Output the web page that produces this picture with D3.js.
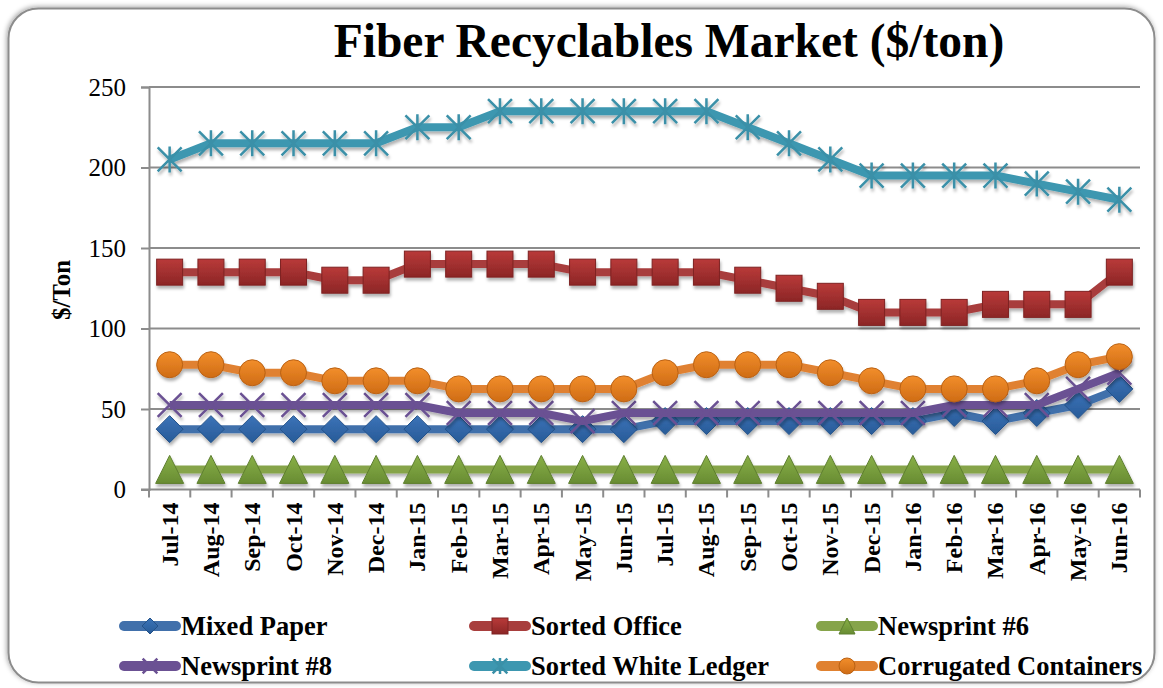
<!DOCTYPE html>
<html lang="en">
<head>
<meta charset="UTF-8">
<title>Fiber Recyclables Market ($/ton)</title>
<style>
  body { margin: 0; background: #fff; }
  svg, svg text { font-family: "Liberation Serif", "Times New Roman", serif; }
  svg { display: block; }
  .tick text { fill: #000; }
</style>
</head>
<body>
<div id="chart"></div>
<script src="https://cdnjs.cloudflare.com/ajax/libs/d3/7.8.5/d3.min.js"></script>
<script>
// ---- data ($/ton) ----
const months = ["Jul-14","Aug-14","Sep-14","Oct-14","Nov-14","Dec-14","Jan-15","Feb-15","Mar-15","Apr-15","May-15","Jun-15",
                "Jul-15","Aug-15","Sep-15","Oct-15","Nov-15","Dec-15","Jan-16","Feb-16","Mar-16","Apr-16","May-16","Jun-16"];
const mixedPaper        = [37.5,37.5,37.5,37.5,37.5,37.5,37.5,37.5,37.5,37.5,37.5,37.5,42.5,42.5,42.5,42.5,42.5,42.5,42.5,47.5,42.5,47.5,52.5,62.5];
const sortedOffice      = [135,135,135,135,130,130,140,140,140,140,135,135,135,135,130,125,120,110,110,110,115,115,115,135];
const newsprint6        = [12.5,12.5,12.5,12.5,12.5,12.5,12.5,12.5,12.5,12.5,12.5,12.5,12.5,12.5,12.5,12.5,12.5,12.5,12.5,12.5,12.5,12.5,12.5,12.5];
const newsprint8        = [52.5,52.5,52.5,52.5,52.5,52.5,52.5,47.5,47.5,47.5,42.5,47.5,47.5,47.5,47.5,47.5,47.5,47.5,47.5,52.5,52.5,52.5,62.5,72.5];
const sortedWhiteLedger = [205,215,215,215,215,215,225,225,235,235,235,235,235,235,225,215,205,195,195,195,195,190,185,180];
const corrugated        = [77.5,77.5,72.5,72.5,67.5,67.5,67.5,62.5,62.5,62.5,62.5,62.5,72.5,77.5,77.5,77.5,72.5,67.5,62.5,62.5,62.5,67.5,77.5,82.5];
const yTicks = [0, 50, 100, 150, 200, 250];

const seriesNames  = ["Mixed Paper","Sorted Office","Newsprint #6","Newsprint #8","Sorted White Ledger","Corrugated Containers"];
const seriesValues = [mixedPaper, sortedOffice, newsprint6, newsprint8, sortedWhiteLedger, corrugated];
const lineColors   = ["#4170ab","#a83e3d","#86a44a","#6b5193","#3d97b0","#e08130"];
const markTop      = ["#3b73b8","#b93a39","#89b047","#6b5193","#3a90a8","#f28e2b"];
const markBottom   = ["#285b98","#8c2626","#688c33","#6b5193","#3a90a8","#cf6c15"];
const markers      = ["diamond","square","triangle","x","star","circle"];

const W = 1163, H = 688;
const margin = {left: 149, right: 23, top: 87, bottom: 198};

const svg = d3.select("#chart").append("svg")
    .attr("width", W).attr("height", H);

const defs = svg.append("defs");
const shadow = defs.append("filter").attr("id", "shadow")
    .attr("x", "-30%").attr("y", "-30%").attr("width", "160%").attr("height", "160%");
shadow.append("feDropShadow").attr("dx", 1).attr("dy", 3).attr("stdDeviation", 1.8)
    .attr("flood-color", "#000").attr("flood-opacity", 0.3);
const frameShadow = defs.append("filter").attr("id", "frameShadow")
    .attr("x", "-5%").attr("y", "-5%").attr("width", "110%").attr("height", "110%");
frameShadow.append("feDropShadow").attr("dx", -1).attr("dy", -1).attr("stdDeviation", 2.5)
    .attr("flood-color", "#000").attr("flood-opacity", 0.35);

seriesNames.forEach((n, i) => {
  const g = defs.append("linearGradient").attr("id", "grad" + i)
      .attr("x1", 0).attr("y1", 0).attr("x2", 0).attr("y2", 1);
  g.append("stop").attr("offset", "0%").attr("stop-color", markTop[i]);
  g.append("stop").attr("offset", "100%").attr("stop-color", markBottom[i]);
});

// chart frame
svg.append("rect")
    .attr("x", 8.5).attr("y", 8.5).attr("width", 1146).attr("height", 674)
    .attr("rx", 30).attr("ry", 30)
    .attr("fill", "#fff").attr("stroke", "#8c8c8c").attr("stroke-width", 2)
    .attr("filter", "url(#frameShadow)");

// title
svg.append("text")
    .attr("x", 669).attr("y", 57)
    .attr("text-anchor", "middle")
    .style("font-size", "47.5px").style("font-weight", "bold")
    .text("Fiber Recyclables Market ($/ton)");

const x = d3.scaleBand().domain(months).range([margin.left, W - margin.right]);
const y = d3.scaleLinear().domain([0, 250]).range([H - margin.bottom - 0.5, margin.top]);

// gridlines
svg.append("g")
    .selectAll("line").data(yTicks.filter(d => d > 0)).join("line")
    .attr("x1", margin.left).attr("x2", W - margin.right)
    .attr("y1", d => y(d)).attr("y2", d => y(d))
    .attr("stroke", "#8c8c8c").attr("stroke-width", 2);

// y axis
const yAxis = svg.append("g")
    .attr("transform", `translate(${margin.left},0)`)
    .call(d3.axisLeft(y).tickValues(yTicks).tickSize(8).tickPadding(15));
yAxis.attr("font-family", null).attr("font-size", null);
yAxis.selectAll("path, line").attr("stroke", "#8c8c8c").attr("stroke-width", 2);
yAxis.selectAll("text")
    .style("font-family", "'Liberation Serif', 'Times New Roman', serif")
    .style("font-size", "25px");

// x axis: ticks at category boundaries
const xg = svg.append("g").attr("transform", `translate(0,${y(0)})`);
xg.append("line")
    .attr("x1", margin.left - 8).attr("x2", W - margin.right)
    .attr("stroke", "#8c8c8c").attr("stroke-width", 2);
xg.selectAll("line.tk").data(months.concat(["end"])).join("line")
    .attr("class", "tk")
    .attr("x1", (d, i) => margin.left + i * x.step())
    .attr("x2", (d, i) => margin.left + i * x.step())
    .attr("y1", 0).attr("y2", 8)
    .attr("stroke", "#8c8c8c").attr("stroke-width", 2);
xg.selectAll("text").data(months).join("text")
    .attr("transform", d => `translate(${x(d) + x.bandwidth() / 2 + 8},13) rotate(-90)`)
    .attr("text-anchor", "end")
    .style("font-size", "24px").style("font-weight", "bold")
    .text(d => d);

// y axis title
svg.append("text")
    .attr("transform", "translate(70,290) rotate(-90)")
    .attr("text-anchor", "middle")
    .style("font-size", "25px").style("font-weight", "bold")
    .text("$/Ton");

// marker drawing
function drawMarker(sel, type, i, s) {
  const stroke = d3.color(markBottom[i]).darker(0.3);
  if (type === "diamond") {
    sel.append("path").attr("d", `M0,${-s}L${s},0L0,${s}L${-s},0Z`)
       .attr("fill", `url(#grad${i})`).attr("stroke", stroke).attr("stroke-width", 1);
  } else if (type === "square") {
    sel.append("rect").attr("x", -s).attr("y", -s).attr("width", 2 * s).attr("height", 2 * s)
       .attr("fill", `url(#grad${i})`).attr("stroke", stroke).attr("stroke-width", 1);
  } else if (type === "triangle") {
    sel.append("path").attr("d", `M0,${-s}L${s},${s}L${-s},${s}Z`)
       .attr("fill", `url(#grad${i})`).attr("stroke", stroke).attr("stroke-width", 1);
  } else if (type === "circle") {
    sel.append("circle").attr("r", s)
       .attr("fill", `url(#grad${i})`).attr("stroke", stroke).attr("stroke-width", 1);
  } else {
    const k = s * 0.92;
    let d = `M${-k},${-k}L${k},${k}M${-k},${k}L${k},${-k}`;
    if (type === "star") d += `M0,${-s}L0,${s}`;
    sel.append("path").attr("d", d)
       .attr("fill", "none").attr("stroke", markTop[i]).attr("stroke-width", 2.5);
  }
}

const line = d3.line()
    .x((d, j) => x(months[j]) + x.bandwidth() / 2)
    .y(d => y(d));

const sizes = {diamond: 13.5, square: 13, triangle: 14, circle: 13, x: 13, star: 13};

seriesValues.forEach((vals, i) => {
  const g = svg.append("g").attr("filter", "url(#shadow)");
  g.append("path").datum(vals)
      .attr("d", line)
      .attr("fill", "none")
      .attr("stroke", lineColors[i])
      .attr("stroke-width", 8)
      .attr("stroke-linejoin", "round");
  g.selectAll("g.m").data(vals).join("g")
      .attr("class", "m")
      .attr("transform", (d, j) => `translate(${x(months[j]) + x.bandwidth() / 2},${y(d)})`)
      .each(function() { drawMarker(d3.select(this), markers[i], i, sizes[markers[i]]); });
});

// legend
const legCols = [120, 470, 817];
const legRows = [626, 666];
seriesNames.forEach((n, i) => {
  const lx = legCols[i % 3], ly = legRows[Math.floor(i / 3)];
  const g = svg.append("g").attr("transform", `translate(${lx},${ly})`);
  g.append("line").attr("x1", 4).attr("x2", 56)
      .attr("stroke", lineColors[i]).attr("stroke-width", 10).attr("stroke-linecap", "round");
  const m = g.append("g").attr("transform", "translate(30,0)");
  drawMarker(m, markers[i], i, 8);
  g.append("text").attr("x", 61).attr("y", 9)
      .style("font-size", "26.5px").style("font-weight", "bold")
      .text(n);
});
</script>
</body>
</html>
